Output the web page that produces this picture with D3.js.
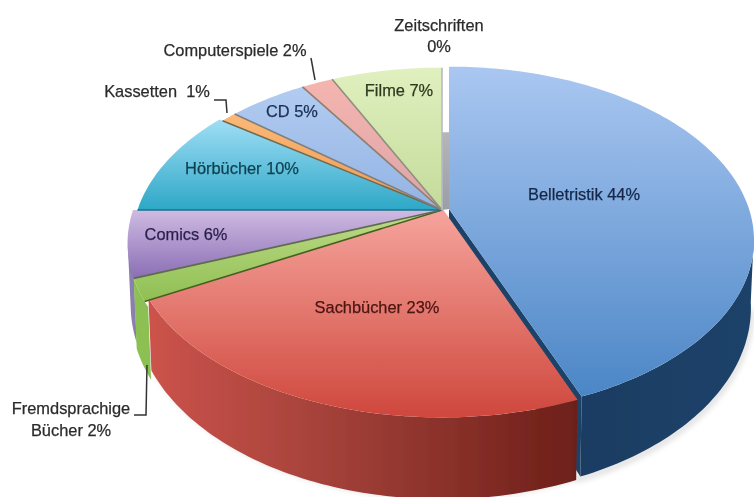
<!DOCTYPE html>
<html>
<head>
<meta charset="utf-8">
<script src="https://cdn.jsdelivr.net/npm/d3@7"></script>
<style>
  html, body { margin: 0; padding: 0; background: #fff; }
  svg { display: block; }
  text { font-family: "Liberation Sans", Arial, sans-serif; font-size: 16.4px; text-anchor: middle; dominant-baseline: middle; white-space: pre; stroke-width: 0.25; }
</style>
</head>
<body>
<div id="chart"></div>
<script>
// chart data, in pie order (clockwise from 12 o'clock)
var categories = ['Belletristik', 'Sachbücher', 'Fremdsprachige Bücher', 'Comics', 'Hörbücher', 'Kassetten', 'CD', 'Computerspiele', 'Filme', 'Zeitschriften'];
var values = [44, 23, 2, 6, 10, 1, 5, 2, 7, 0];

// colours: top of the gradient, bottom of the gradient, edge line
var topLight = ['#aac7f1', '#f6a59d', '#bfdb88', '#cfbbe2', '#a0def5', '#fbb878', '#b2ccf1', '#f5b5af', '#e0f0bf', '#c8c8dc'];
var topDark = ['#4b86c6', '#cf473d', '#8fbf53', '#8a6eb5', '#2da7c7', '#f09a50', '#93b3e3', '#dba5a8', '#c4db9a', '#c8c8dc'];
var edgeColor = ['#2a4f7c', '#6e3a30', '#4a5f22', '#5f6a50', '#1f6f86', '#6f6a50', '#7f7f7f', '#8f7f6f', '#8f8f80', '#b9b9c9'];

// where each slice sits: shift from the pie centre, radius factor
var shiftX = [7, 0, 0, 0, 0, 0, 0, 0, 0, 0];
var shiftY = [-1, -2, 0, 0, 0, 0, 0, 0, 0, 0];
var radiusFactor = [1, 1.018, 1.03, 1.03, 1.015, 1, 1, 1, 1, 1];

// text placement, centre of each line
var labelLines = [
    {text: 'Belletristik 44%', x: 584, y: 196, fill: '#14284a'},
    {text: 'Sachbücher 23%', x: 377, y: 309, fill: '#4a1512'},
    {text: 'Comics 6%', x: 186, y: 236, fill: '#2a1f4a'},
    {text: 'Hörbücher 10%', x: 242, y: 170, fill: '#0f3f50'},
    {text: 'CD 5%', x: 292, y: 113, fill: '#1a2f55'},
    {text: 'Filme 7%', x: 399, y: 92, fill: '#2f3a20'},
    {text: 'Kassetten  1%', x: 157, y: 93, fill: '#2b2b2b'},
    {text: 'Computerspiele 2%', x: 235, y: 52, fill: '#2b2b2b'},
    {text: 'Zeitschriften', x: 439, y: 27, fill: '#2b2b2b'},
    {text: '0%', x: 439, y: 48, fill: '#2b2b2b'},
    {text: 'Fremdsprachige', x: 71, y: 410, fill: '#2b2b2b'},
    {text: 'Bücher 2%', x: 71, y: 432, fill: '#2b2b2b'}
];
var leaders = [
    [[311, 58], [315, 80]],
    [[214, 100], [226, 100], [227, 113]],
    [[134, 415], [146, 415], [147, 365]]
];

var width = 754, height = 497;
var cx = 442, cy = 210;

// perspective of the pie plane
var radiusX = 300, radiusY = 168, persp = 0.18;

function project(angle, r, i, bottom) {
    var u = r * Math.sin(angle), v = -r * Math.cos(angle);
    var w = 1 - persp * v;
    var x = radiusX * u / w, y = radiusY * v / w;
    if (bottom) {
        x = x * 0.99;
        y = y * 1.08 + 65;
    }
    return [cx + shiftX[i] + x, cy + shiftY[i] + y];
}

function arcPoints(a0, a1, r, i, bottom) {
    var n = Math.max(2, Math.ceil(Math.abs(a1 - a0) / 0.02));
    return d3.range(n + 1).map(function(k) {
        return project(a0 + (a1 - a0) * k / n, r, i, bottom);
    });
}

var line = d3.line();

var svg = d3.select('#chart').append('svg')
    .attr('width', width)
    .attr('height', height);

var defs = svg.append('defs');
defs.append('filter').attr('id', 'soft').attr('x', '-5%').attr('y', '-5%').attr('width', '110%').attr('height', '110%')
    .append('feGaussianBlur').attr('stdDeviation', 0.6);
defs.append('filter').attr('id', 'softText').attr('x', '-5%').attr('y', '-20%').attr('width', '110%').attr('height', '140%')
    .append('feGaussianBlur').attr('stdDeviation', 0.45);
defs.append('filter').attr('id', 'shadow').attr('x', '-10%').attr('y', '-10%').attr('width', '120%').attr('height', '120%')
    .append('feGaussianBlur').attr('stdDeviation', 3);

values.forEach(function(d, i) {
    var g = defs.append('linearGradient').attr('id', 'top' + i)
        .attr('x1', 0).attr('y1', 0).attr('x2', 0).attr('y2', 1);
    g.append('stop').attr('offset', '0%').attr('stop-color', topLight[i]);
    g.append('stop').attr('offset', '100%').attr('stop-color', topDark[i]);
});

var redSide = defs.append('linearGradient').attr('id', 'redSide')
    .attr('x1', 0).attr('y1', 0).attr('x2', 1).attr('y2', 0);
redSide.append('stop').attr('offset', '0%').attr('stop-color', '#cc534b');
redSide.append('stop').attr('offset', '40%').attr('stop-color', '#a5423a');
redSide.append('stop').attr('offset', '100%').attr('stop-color', '#6d1f19');

var blueSide = defs.append('linearGradient').attr('id', 'blueSide')
    .attr('x1', 0).attr('y1', 0).attr('x2', 1).attr('y2', 0);
blueSide.append('stop').attr('offset', '0%').attr('stop-color', '#1d3d62');
blueSide.append('stop').attr('offset', '100%').attr('stop-color', '#1f4269');

var wall = defs.append('linearGradient').attr('id', 'wall')
    .attr('x1', 0).attr('y1', 0).attr('x2', 0).attr('y2', 1);
wall.append('stop').attr('offset', '0%').attr('stop-color', '#b4b6b8');
wall.append('stop').attr('offset', '100%').attr('stop-color', '#9a9ea6');

var pie = d3.pie().sort(null).value(function(d) { return d; });
var slices = pie(values);

function sidePath(a0, a1, i) {
    return line(arcPoints(a0, a1, radiusFactor[i], i, false)
        .concat(arcPoints(a1, a0, radiusFactor[i], i, true))) + 'Z';
}

var pieGroup = svg.append('g').attr('filter', 'url(#soft)');

// soft shadow under the front rim
var sBlue = slices[0], sRed = slices[1], sGreen = slices[2], sComics = slices[3];
svg.insert('path', 'g')
    .attr('d', line(arcPoints(1.75, sBlue.endAngle, 1, 0, true)
        .concat(arcPoints(sRed.startAngle, sGreen.endAngle, 1, 1, true))))
    .attr('fill', 'none')
    .attr('stroke', '#8a8a8a')
    .attr('stroke-width', 3)
    .attr('opacity', 0.55)
    .attr('transform', 'translate(0,2)')
    .attr('filter', 'url(#shadow)');

// back wall seen through the gap at 12 o'clock
var wallBottom = project(0, 1, 0, true);
wallBottom[1] += 12;
pieGroup.append('path')
    .attr('d', line([wallBottom, [cx, wallBottom[1]], [cx, cy], [cx + shiftX[0], cy + shiftY[0]]]) + 'Z')
    .attr('fill', 'url(#wall)');

// side faces, back to front
var comicsEnd = sComics.startAngle + 0.16;
pieGroup.append('path')
    .attr('d', sidePath(sComics.startAngle, comicsEnd, 3))
    .attr('fill', '#8a7fae')
    .attr('transform', 'translate(0,-6)');

// cut face of the big slice, then its outer side
pieGroup.append('path')
    .attr('d', line([
        [cx + shiftX[0], cy + shiftY[0]],
        project(sBlue.endAngle, 1, 0, false),
        project(sBlue.endAngle, 1, 0, true),
        [cx + shiftX[0], cy + shiftY[0] + 64]
    ]) + 'Z')
    .attr('fill', '#1f4268');
pieGroup.append('path')
    .attr('d', sidePath(1.72, sBlue.endAngle, 0))
    .attr('fill', 'url(#blueSide)');

// the green side runs on under the red one so no gap shows between them
pieGroup.append('path')
    .attr('d', sidePath(sGreen.startAngle - 0.03, sGreen.endAngle, 2))
    .attr('fill', '#8cc052');
pieGroup.append('path')
    .attr('d', sidePath(sRed.startAngle, sRed.endAngle, 1))
    .attr('fill', 'url(#redSide)');

// top faces
pieGroup.selectAll('path.top')
    .data(slices)
    .enter().append('path')
    .attr('class', 'top')
    .attr('d', function(d) {
        var pts = [[cx + shiftX[d.index], cy + shiftY[d.index]]]
            .concat(arcPoints(d.startAngle, d.endAngle, radiusFactor[d.index], d.index, false));
        return line(pts) + 'Z';
    })
    .attr('fill', function(d) { return 'url(#top' + d.index + ')'; });

// thin walls between the slices of the back part
pieGroup.selectAll('line.edge')
    .data(slices.filter(function(d) { return d.index >= 2; }))
    .enter().append('line')
    .attr('class', 'edge')
    .attr('x1', function(d) { return cx + shiftX[d.index]; })
    .attr('y1', function(d) { return cy + shiftY[d.index]; })
    .attr('x2', function(d) { return project(d.startAngle, radiusFactor[d.index], d.index, false)[0]; })
    .attr('y2', function(d) { return project(d.startAngle, radiusFactor[d.index], d.index, false)[1]; })
    .attr('stroke', function(d) { return edgeColor[d.index]; })
    .attr('stroke-width', 1.6);

// leader lines
svg.selectAll('path.leader')
    .data(leaders)
    .enter().append('path')
    .attr('class', 'leader')
    .attr('d', line)
    .attr('fill', 'none')
    .attr('stroke', '#333')
    .attr('stroke-width', 1.5);

// labels
svg.append('g').attr('filter', 'url(#softText)')
    .selectAll('text.label')
    .data(labelLines)
    .enter().append('text')
    .attr('class', 'label')
    .attr('x', function(d) { return d.x; })
    .attr('y', function(d) { return d.y; })
    .attr('fill', function(d) { return d.fill; })
    .attr('stroke', function(d) { return d.fill; })
    .text(function(d) { return d.text; });
</script>
</body>
</html>
